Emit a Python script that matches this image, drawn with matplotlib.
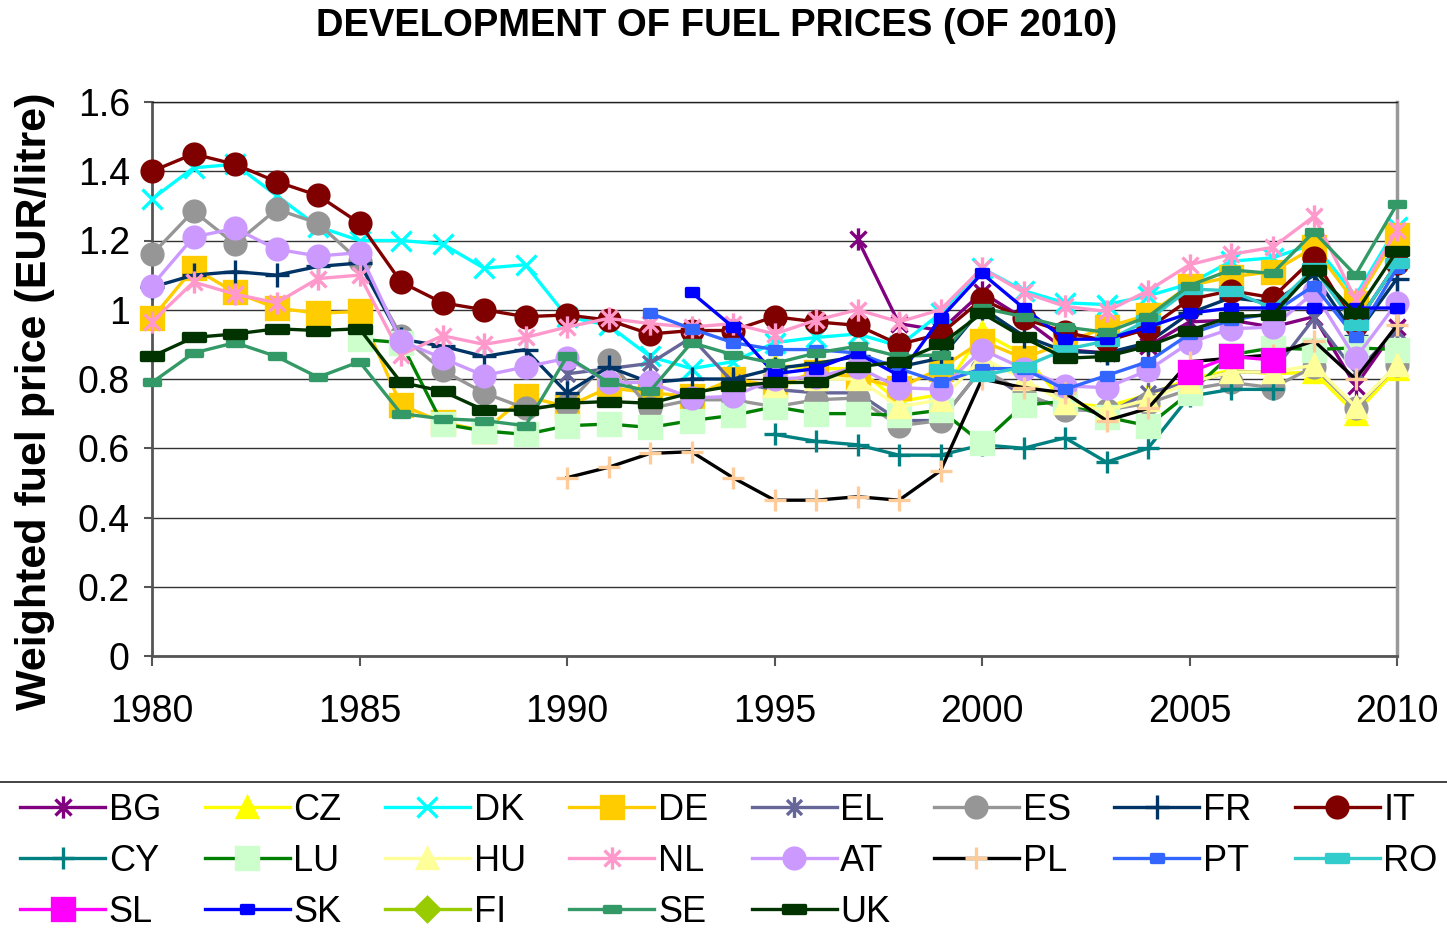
import numpy as np
import matplotlib
matplotlib.use("Agg")
import matplotlib.pyplot as plt
from matplotlib.path import Path
from matplotlib.lines import Line2D

plt.rcParams['font.family'] = ['Liberation Sans', 'DejaVu Sans']

# ---------------- data ----------------
years = list(range(1980, 2011))
N = None

BG = [N]*17 + [1.205, 0.96, 0.94, 1.05, 0.975, 0.885, 0.875, 0.895, 0.965, 0.97, 0.95, 0.98, 0.78, 0.95]
CZ = [N]*15 + [0.84, 0.83, 0.83, 0.735, 0.755, 0.935, 0.87, 0.73, 0.72, 0.755, 0.80, 0.825, 0.815, 0.82, 0.70, 0.83]
DK = [1.32, 1.41, 1.42, 1.33, 1.24, 1.20, 1.20, 1.19, 1.12, 1.13,
      0.98, 0.955, 0.865, 0.83, 0.85, 0.905, 0.92, 0.93, 0.895, 0.99,
      1.12, 1.055, 1.02, 1.015, 1.04, 1.075, 1.14, 1.15, 1.19, 1.04, 1.24]
DE = [0.975, 1.12, 1.05, 1.005, 0.99, 0.995, 0.725, 0.675, 0.65, 0.75,
      0.72, 0.775, 0.76, 0.75, 0.80, 0.78, 0.82, 0.805, 0.775, 0.83,
      0.91, 0.86, 0.905, 0.95, 0.985, 1.07, 1.095, 1.11, 1.18, 1.02, 1.215]
EL = [N]*10 + [0.815, 0.83, 0.845, 0.92, 0.79, 0.77, 0.76, 0.76, 0.68, 0.68,
               0.83, 0.75, 0.72, 0.70, 0.76, 0.79, 0.82, 0.82, 0.975, 0.82, 0.94]
ES = [1.16, 1.285, 1.19, 1.29, 1.25, 1.14, 0.925, 0.825, 0.76, 0.715,
      0.725, 0.855, 0.715, 0.74, 0.74, 0.72, 0.74, 0.745, 0.665, 0.68,
      0.83, 0.76, 0.71, 0.71, 0.73, 0.77, 0.79, 0.775, 0.835, 0.715, 0.84]
FR = [1.065, 1.10, 1.11, 1.10, 1.125, 1.135, 0.915, 0.895, 0.865, 0.885,
      0.76, 0.835, 0.79, 0.80, 0.80, 0.83, 0.845, 0.865, 0.835, 0.86,
      1.005, 0.925, 0.88, 0.875, 0.905, 0.99, 1.035, 1.02, 1.10, 0.925, 1.09]
IT = [1.40, 1.45, 1.42, 1.37, 1.33, 1.25, 1.08, 1.02, 1.00, 0.98,
      0.985, 0.97, 0.93, 0.94, 0.94, 0.98, 0.965, 0.955, 0.90, 0.93,
      1.03, 0.975, 0.935, 0.91, 0.945, 1.03, 1.055, 1.035, 1.15, 0.955, 1.135]
CY = [N]*15 + [0.64, 0.62, 0.61, 0.58, 0.58, 0.61, 0.60, 0.63, 0.56, 0.60, 0.75, 0.77, 0.77, N, N, N]
LU = [N]*5 + [0.915, 0.905, 0.67, 0.65, 0.64,
              0.665, 0.67, 0.66, 0.68, 0.695, 0.72, 0.70, 0.70, 0.695, 0.71,
              0.615, 0.725, 0.735, 0.69, 0.665, 0.76, 0.87, 0.89, 0.885, 0.89, 0.885]
HU = [N]*15 + [0.78, 0.80, 0.80, 0.72, 0.74, 0.86, 0.80, 0.73, 0.71, 0.74, 0.79, 0.82, 0.82, 0.84, 0.72, 0.84]
NL = [0.965, 1.08, 1.045, 1.02, 1.09, 1.10, 0.87, 0.925, 0.90, 0.92,
      0.95, 0.975, 0.96, 0.95, 0.96, 0.93, 0.97, 1.00, 0.965, 1.00,
      1.12, 1.05, 1.01, 0.995, 1.055, 1.13, 1.16, 1.18, 1.27, 1.03, 1.23]
AT = [1.07, 1.21, 1.235, 1.175, 1.155, 1.165, 0.91, 0.86, 0.81, 0.835,
      0.86, 0.79, 0.79, 0.745, 0.75, 0.80, 0.805, 0.835, 0.775, 0.77,
      0.885, 0.83, 0.78, 0.775, 0.825, 0.905, 0.945, 0.95, 1.05, 0.86, 1.02]
PL = [N]*10 + [0.515, 0.545, 0.585, 0.59, 0.515, 0.45, 0.45, 0.46, 0.45, 0.535,
               0.80, 0.775, 0.76, 0.68, 0.715, 0.85, 0.86, 0.87, 0.91, 0.80, 0.955]
PT = [N]*12 + [0.99, 0.945, 0.905, 0.885, 0.885, 0.875, 0.83, 0.79,
               0.83, 0.83, 0.77, 0.81, 0.85, 0.93, 0.97, 0.99, 1.07, 0.92, 1.12]
RO = [N]*19 + [0.83, 0.81, 0.835, 0.885, 0.91, 0.97, 1.06, 1.055, 1.005, 1.12, 0.955, 1.135]
SL = [N]*25 + [0.82, 0.865, 0.855, N, N, N]
SK = [N]*13 + [1.05, 0.95, 0.815, 0.83, 0.875, 0.81, 0.975,
               1.105, 1.005, 0.915, 0.915, 0.95, 0.99, 1.005, 1.005, 1.005, 1.005, 1.005]
FI = [N]*31
SE = [0.79, 0.875, 0.905, 0.865, 0.805, 0.85, 0.70, 0.685, 0.68, 0.665,
      0.865, 0.79, 0.765, 0.905, 0.87, 0.845, 0.875, 0.895, 0.865, 0.87,
      1.005, 0.98, 0.95, 0.935, 0.98, 1.07, 1.115, 1.105, 1.225, 1.10, 1.305]
UK = [0.865, 0.92, 0.93, 0.945, 0.94, 0.945, 0.79, 0.765, 0.71, 0.71,
      0.73, 0.735, 0.73, 0.76, 0.78, 0.79, 0.79, 0.835, 0.85, 0.90,
      0.99, 0.92, 0.86, 0.865, 0.895, 0.94, 0.98, 0.985, 1.115, 0.99, 1.17]

series_names = ['BG', 'CZ', 'DK', 'DE', 'EL', 'ES', 'FR', 'IT',
                'CY', 'LU', 'HU', 'NL', 'AT', 'PL', 'PT', 'RO',
                'SL', 'SK', 'FI', 'SE', 'UK']
series_values = [BG, CZ, DK, DE, EL, ES, FR, IT, CY, LU, HU, NL, AT, PL, PT, RO, SL, SK, FI, SE, UK]

# ---------------- marker shapes ----------------
def rect_marker(h):
    return Path([(-1, -h), (1, -h), (1, h), (-1, h), (-1, -h)],
                [Path.MOVETO, Path.LINETO, Path.LINETO, Path.LINETO, Path.CLOSEPOLY])

star = Path([(0, -1), (0, 1), (-0.72, -0.72), (0.72, 0.72), (-0.72, 0.72), (0.72, -0.72)],
            [Path.MOVETO, Path.LINETO, Path.MOVETO, Path.LINETO, Path.MOVETO, Path.LINETO])

# name: (line colour, marker, marker size, face colour, edge colour)
styles = {
    'BG': ('#800080', star, 16, 'none', '#800080'),
    'CZ': ('#FFFF00', '^', 15, '#FFFF00', '#FFFF00'),
    'DK': ('#00FFFF', 'x', 15, 'none', '#00FFFF'),
    'DE': ('#FFCC00', 's', 16, '#FFCC00', '#FFCC00'),
    'EL': ('#666699', star, 15, 'none', '#666699'),
    'ES': ('#969696', 'o', 15, '#969696', '#969696'),
    'FR': ('#003366', '+', 17, 'none', '#003366'),
    'IT': ('#800000', 'o', 15, '#800000', '#800000'),
    'CY': ('#008080', '+', 16, 'none', '#008080'),
    'LU': ('#008000', 's', 16, '#CCFFCC', '#CCFFCC'),
    'HU': ('#FFFF99', '^', 15, '#FFFF99', '#FFFF99'),
    'NL': ('#FF99CC', star, 16, 'none', '#FF99CC'),
    'AT': ('#CC99FF', 'o', 15, '#CC99FF', '#CC99FF'),
    'PL': ('#000000', '+', 16, 'none', '#FFCC99'),
    'PT': ('#3366FF', rect_marker(0.7), 8, '#3366FF', '#3366FF'),
    'RO': ('#33CCCC', rect_marker(0.33), 16, '#33CCCC', '#33CCCC'),
    'SL': ('#FF00FF', 's', 16, '#FF00FF', '#FF00FF'),
    'SK': ('#0000FF', rect_marker(0.6), 9, '#0000FF', '#0000FF'),
    'FI': ('#99CC00', 'D', 12, '#99CC00', '#99CC00'),
    'SE': ('#339966', rect_marker(0.42), 11, '#339966', '#339966'),
    'UK': ('#003300', rect_marker(0.33), 16, '#003300', '#003300'),
}

W, H = 1447, 931
fig = plt.figure(figsize=(W / 100, H / 100), dpi=100)
ax = fig.add_axes([152 / W, 1 - 656 / H, (1397 - 152) / W, (656 - 102) / H])

x = np.array(years, dtype=float)
handles = {}
for name, vals in zip(series_names, series_values):
    y = np.array([np.nan if v is None else v for v in vals], dtype=float)
    lc, mk, ms, fc, ec = styles[name]
    ln, = ax.plot(x, y, color=lc, lw=2.4, marker=mk, markersize=ms,
                  markerfacecolor=fc, markeredgecolor=ec, markeredgewidth=2.4,
                  clip_on=False, label=name, zorder=3)
    handles[name] = ln

ax.set_xlim(1980, 2010)
ax.set_ylim(0, 1.6)
ax.set_xticks(range(1980, 2011, 5))
yt = np.round(np.arange(0, 1.61, 0.2), 1)
ax.set_yticks(yt)
ax.set_yticklabels(['%g' % v for v in yt])
ax.tick_params(axis='both', labelsize=27, direction='out', color='#555555', width=1.5)
ax.tick_params(axis='x', length=7, pad=20)
ax.tick_params(axis='y', length=6, pad=10)
ax.yaxis.grid(True, color='#333333', lw=1.0)
ax.set_axisbelow(True)
for s in ['left', 'bottom']:
    ax.spines[s].set_color('#555555')
    ax.spines[s].set_linewidth(2)
ax.spines['top'].set_color('#222222')
ax.spines['top'].set_linewidth(1)
ax.spines['right'].set_color('#999999')
ax.spines['right'].set_linewidth(2.5)

fig.text(717 / W, 1 - 26 / H, 'DEVELOPMENT OF FUEL PRICES (OF 2010)',
         ha='center', va='center', fontsize=27.5, fontweight='bold')
fig.text(35 / W, 1 - 401 / H, 'Weighted fuel price (EUR/litre)', rotation=90,
         ha='center', va='center', fontsize=31, fontweight='bold')

fig.add_artist(Line2D([0, 1], [1 - 782 / H] * 2, transform=fig.transFigure,
                      color='#222222', lw=1.2))

rows = [series_names[0:8], series_names[8:16], series_names[16:21]]
order = []
for c in range(8):
    for r in rows:
        if c < len(r):
            order.append(r[c])
fig.legend([handles[n] for n in order], order, loc='upper left',
           bbox_to_anchor=(20 / W, 1 - 793 / H), ncol=8, frameon=False,
           fontsize=26, handlelength=2.36, handletextpad=0.1,
           columnspacing=1.2, labelspacing=0.44, borderpad=0, borderaxespad=0)

fig.savefig('out.png', dpi=100)
